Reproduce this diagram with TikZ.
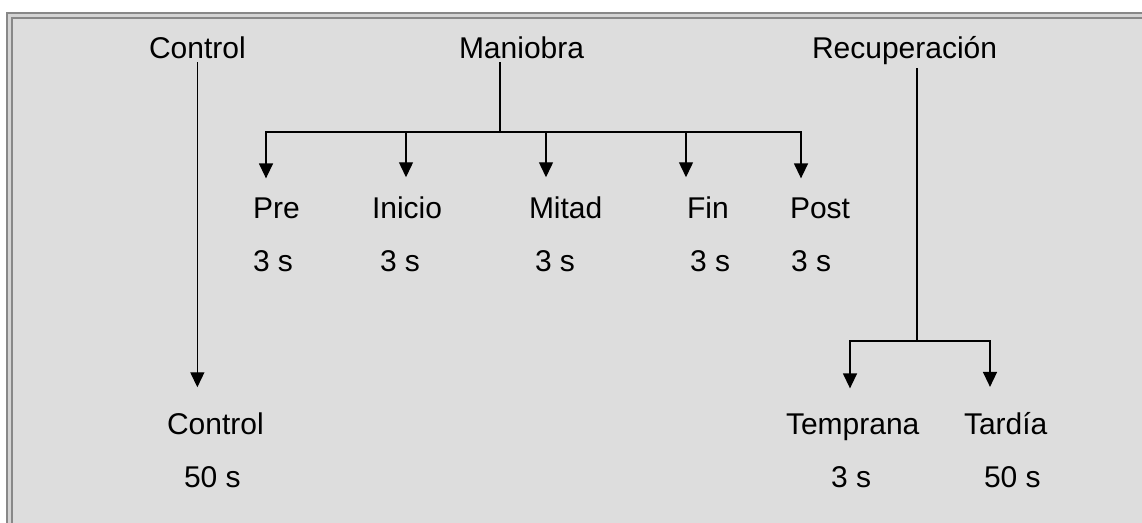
\documentclass[tikz,border=0pt]{standalone}
\usepackage{fontspec}
\setmainfont{Liberation Sans}
\usetikzlibrary{positioning, arrows.meta, calc}
\definecolor{panel}{RGB}{221,221,221}
\definecolor{rim}{RGB}{136,136,136}
\definecolor{rimgap}{RGB}{212,212,212}

\begin{document}
\begin{tikzpicture}[x=1pt, y=-1pt,
  >={Triangle[width=14pt, length=15pt]},
  every node/.style={font=\fontsize{30}{36}\selectfont},
  lbl/.style = {anchor=base west, inner sep=0pt, outer sep=4pt},
  arr/.style = {->, line width=1.4pt, shorten >=15pt},
  bar/.style = {line width=1.4pt, line cap=rect},
]
  \useasboundingbox (0,0) rectangle (1142,522);
  \fill[white] (0,0) rectangle (1142,522);
  \clip (0,0) rectangle (1142,522);
  % frame
  \filldraw[fill=rimgap, draw=rim, line width=2pt] (7,13) rectangle (1170,550);
  \filldraw[fill=panel, draw=rim, line width=2pt] (12,18) rectangle (1165,545);

  % top row
  \node[lbl] (ctl) at (145,58) {Control};
  \node[lbl] (man) at (455,58) {Maniobra};
  \node[lbl] (rec) at (808,58) {Recuperación};

  % phases of the maneuver
  \node[lbl] (pre) at (249,218) {Pre};
  \node[lbl] (ini) at (368,218) {Inicio};
  \node[lbl] (mit) at (525,218) {Mitad};
  \node[lbl] (fin) at (683,218) {Fin};
  \node[lbl] (pos) at (786,218) {Post};
  \node[lbl] (tpre) at (249,271) {3 s};
  \node[lbl] (tini) at (376,271) {3 s};
  \node[lbl] (tmit) at (531,271) {3 s};
  \node[lbl] (tfin) at (686,271) {3 s};
  \node[lbl] (tpos) at (787,271) {3 s};

  % bottom row
  \node[lbl] (ctlb) at (163,434) {Control};
  \node[lbl] (tctl) at (180,487) {50 s};
  \node[lbl] (tem) at (782,434) {Temprana};
  \node[lbl] (ttem) at (827,487) {3 s};
  \node[lbl] (tar) at (960,434) {Tardía};
  \node[lbl] (ttar) at (980,487) {50 s};

  % control
  \draw[arr, shorten >=21pt] (ctl.south) -- (ctl.south |- ctlb.north);

  % maniobra
  \coordinate (mj) at (500,132);
  \coordinate (b1) at (266,132);
  \coordinate (b2) at (406,132);
  \coordinate (b3) at (546,132);
  \coordinate (b4) at (686,132);
  \coordinate (b5) at (801,132);
  \draw[bar] (mj |- man.south) -- (mj);
  \draw[bar] (b1) -- (b5);
  \foreach \b/\n in {b1/pre,b2/ini,b3/mit,b4/fin,b5/pos}
    \draw[arr] (\b) -- (\b |- \n.north);

  % recuperacion
  \coordinate (rj) at (917,341);
  \coordinate (r1) at (850,341);
  \coordinate (r2) at (990,341);
  \draw[bar] (rj |- rec.south) -- (rj);
  \draw[bar] (r1) -- (r2);
  \foreach \b/\n in {r1/tem,r2/tar}
    \draw[arr, shorten >=21pt] (\b) -- (\b |- \n.north);
\end{tikzpicture}
\end{document}
